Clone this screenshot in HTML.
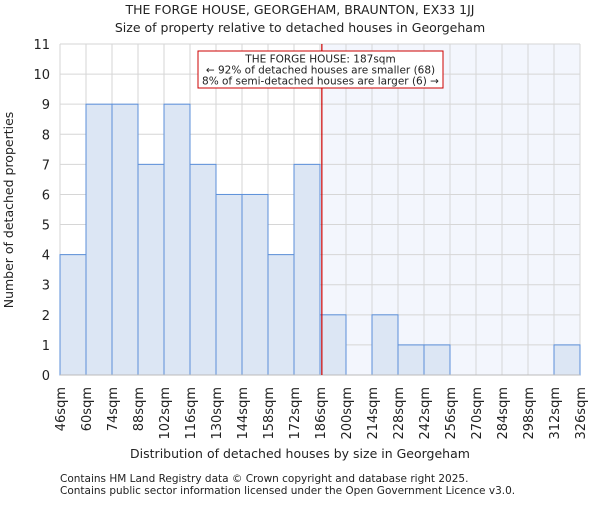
<!DOCTYPE html>
<html><head><meta charset="utf-8"><style>
body{margin:0;background:#fff;}
svg text{font-family:"DejaVu Sans","Liberation Sans",sans-serif;fill:#222;}
</style></head><body>
<svg id="chart" width="600" height="500" xmlns="http://www.w3.org/2000/svg">
<text x="300" y="14" font-size="12.5" text-anchor="middle">THE FORGE HOUSE, GEORGEHAM, BRAUNTON, EX33 1JJ</text>
<text x="300" y="32" font-size="12.5" text-anchor="middle">Size of property relative to detached houses in Georgeham</text>
<g id="plot"></g>
<text x="300" y="458" font-size="12.5" text-anchor="middle">Distribution of detached houses by size in Georgeham</text>
<text transform="translate(13,210) rotate(-90)" font-size="12.5" text-anchor="middle">Number of detached properties</text>
<text x="60" y="482" font-size="10.5" fill="#444">Contains HM Land Registry data © Crown copyright and database right 2025.</text>
<text x="60" y="494" font-size="10.5" fill="#444">Contains public sector information licensed under the Open Government Licence v3.0.</text>
</svg>
<script>
const binStarts=[46,60,74,88,102,116,130,144,158,172,186,200,214,228,242,256,270,284,298,312];
const counts=[4,9,9,7,9,7,6,6,4,7,2,0,2,1,1,0,0,0,0,1];
const tickLabels=["46sqm","60sqm","74sqm","88sqm","102sqm","116sqm","130sqm","144sqm","158sqm","172sqm","186sqm","200sqm","214sqm","228sqm","242sqm","256sqm","270sqm","284sqm","298sqm","312sqm","326sqm"];
const yTicks=[0,1,2,3,4,5,6,7,8,9,10,11];
const propertySize=187;
const binWidth=14;
const L=60,R=580,T=44,B=375,xMin=46,xMax=326,yMax=11;
const xs=v=>L+(v-xMin)/(xMax-xMin)*(R-L);
const ys=v=>B-v/yMax*(B-T);
const NS="http://www.w3.org/2000/svg";
const g=document.getElementById('plot');
function mk(t,a){const e=document.createElementNS(NS,t);for(const k in a)e.setAttribute(k,a[k]);g.appendChild(e);return e;}
const px=xs(propertySize);
let e=mk('rect',{x:px,y:T,width:R-px,height:B-T,fill:'#f3f6fd'});


yTicks.forEach(t=>{
 let l=mk('line',{x1:L,x2:R,y1:ys(t),y2:ys(t),stroke:'#d6d6d6','stroke-width':1});
 
 
 let tx=mk('text',{x:L-10,y:ys(t)+5,'font-size':13,'text-anchor':'end'});tx.textContent=t;
 
 
});
tickLabels.forEach((s,i)=>{
 const v=xMin+i*binWidth;
 let l=mk('line',{x1:xs(v),x2:xs(v),y1:T,y2:B,stroke:'#d6d6d6','stroke-width':1});
 
 
 let tx=mk('text',{transform:`translate(${xs(v)+5},${B+12}) rotate(-90)`,'font-size':13,'text-anchor':'end'});tx.textContent=s;
 
 
});
counts.forEach((c,i)=>{
 if(c<=0)return;
 const x0=xs(binStarts[i]),x1=xs(binStarts[i]+binWidth);
 let r=mk('rect',{x:x0,y:ys(c),width:x1-x0,height:B-ys(c),fill:'#dce6f4',stroke:'#5b8fd9','stroke-width':1});
 
 
});
let ax=mk('line',{x1:L,x2:R,y1:B,y2:B,stroke:'#bbb','stroke-width':1});


let ml=mk('line',{x1:px,x2:px,y1:T,y2:B,stroke:'#cc0000','stroke-width':1.2});


let box=mk('rect',{x:198,y:51,width:245,height:37,fill:'#fff',stroke:'#cc0000','stroke-width':1});


["THE FORGE HOUSE: 187sqm","← 92% of detached houses are smaller (68)","8% of semi-detached houses are larger (6) →"].forEach((s,i)=>{
 let t=mk('text',{x:320.5,y:62.5+i*11,'font-size':10.5,'text-anchor':'middle'});t.textContent=s;
 
 
});
</script>
</body></html>
